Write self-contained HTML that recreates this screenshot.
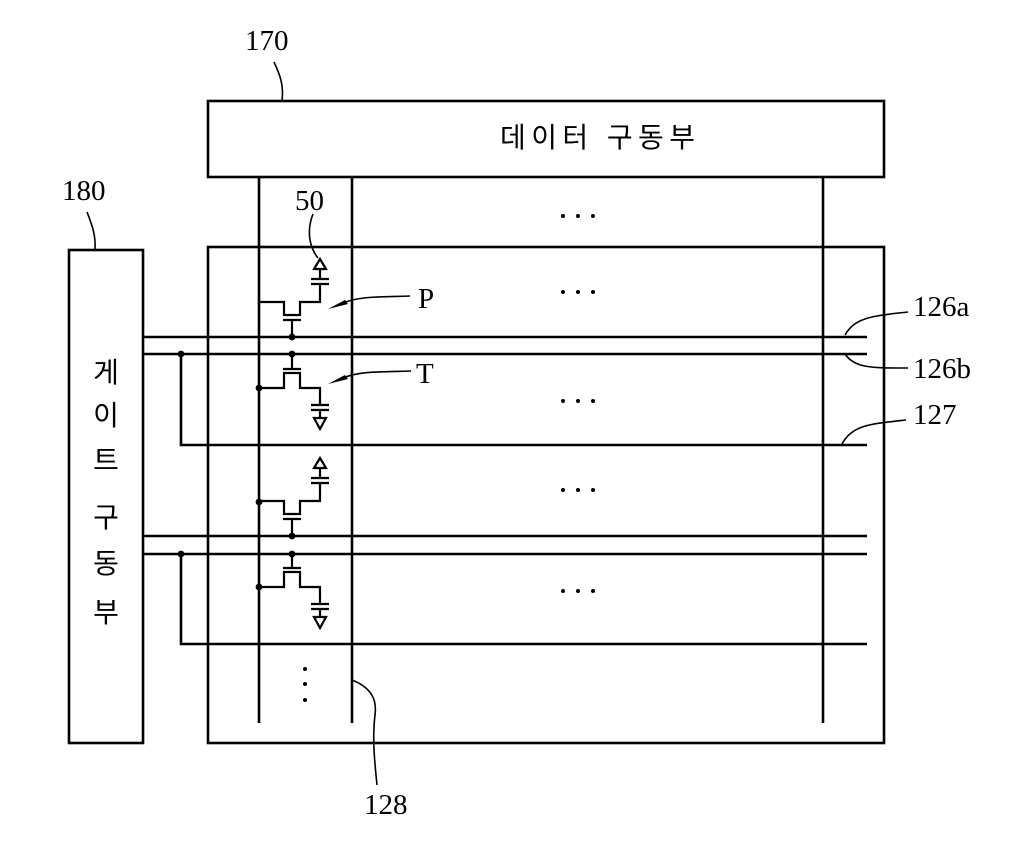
<!DOCTYPE html>
<html><head><meta charset="utf-8"><style>
html,body{margin:0;padding:0;background:#fff;}
svg{display:block;}
.n{font-family:"Liberation Serif",serif;font-size:29px;fill:#000;}
.k{font-family:"Liberation Sans","Noto Sans CJK KR","NanumGothic",sans-serif;font-size:28px;fill:#000;}
</style></head><body>
<svg width="1016" height="859" viewBox="0 0 1016 859" xmlns="http://www.w3.org/2000/svg">
<g fill="none" stroke="#000" stroke-width="2.6">
<rect x="208" y="101" width="676" height="76"/>
<rect x="69" y="250" width="74" height="493"/>
<rect x="208" y="247" width="676" height="496"/>
<line x1="259" y1="177" x2="259" y2="723"/>
<line x1="352" y1="177" x2="352" y2="723"/>
<line x1="823" y1="177" x2="823" y2="723"/>
<line x1="143" y1="337" x2="867" y2="337"/>
<line x1="143" y1="354" x2="867" y2="354"/>
<polyline points="181,354 181,445 867,445"/>
<line x1="143" y1="536" x2="867" y2="536"/>
<line x1="143" y1="554" x2="867" y2="554"/>
<polyline points="181,554 181,644 867,644"/>
</g>
<g id="cell" fill="none" stroke="#000" stroke-width="2.2">
<path d="M259,302 H284 V315 H300 V302 H320 V284"/>
<line x1="311" y1="284" x2="329" y2="284"/>
<line x1="311" y1="279" x2="329" y2="279"/>
<line x1="320" y1="279" x2="320" y2="269"/>
<polygon points="320,259 314,269 326,269"/>
<line x1="283" y1="320" x2="301" y2="320"/>
<line x1="292" y1="320" x2="292" y2="337"/>
<line x1="292" y1="354" x2="292" y2="369"/>
<line x1="283" y1="369" x2="301" y2="369"/>
<path d="M259,388 H284 V373 H300 V388 H320 V405"/>
<line x1="311" y1="405" x2="329" y2="405"/>
<line x1="311" y1="410" x2="329" y2="410"/>
<line x1="320" y1="410" x2="320" y2="418"/>
<polygon points="314,418 326,418 320,429"/>
</g>
<use href="#cell" transform="translate(0,199)"/>
<g fill="#000">
<circle cx="292" cy="337" r="3.4"/><circle cx="292" cy="354" r="3.4"/>
<circle cx="259" cy="388" r="3.4"/><circle cx="181" cy="354" r="3.4"/>
<circle cx="292" cy="536" r="3.4"/><circle cx="292" cy="554" r="3.4"/>
<circle cx="259" cy="502" r="3.4"/><circle cx="259" cy="587" r="3.4"/>
<circle cx="181" cy="554" r="3.4"/>
<circle cx="563" cy="216" r="2"/><circle cx="578" cy="216" r="2"/><circle cx="593" cy="216" r="2"/>
<circle cx="563" cy="292" r="2"/><circle cx="578" cy="292" r="2"/><circle cx="593" cy="292" r="2"/>
<circle cx="563" cy="401" r="2"/><circle cx="578" cy="401" r="2"/><circle cx="593" cy="401" r="2"/>
<circle cx="563" cy="490" r="2"/><circle cx="578" cy="490" r="2"/><circle cx="593" cy="490" r="2"/>
<circle cx="563" cy="591" r="2"/><circle cx="578" cy="591" r="2"/><circle cx="593" cy="591" r="2"/>
<circle cx="305" cy="669" r="2"/><circle cx="305" cy="684" r="2"/><circle cx="305" cy="700" r="2"/>
<polygon points="328,309 345,300 348,304"/>
<polygon points="328,384 345,375 348,379"/>
</g>
<g fill="none" stroke="#000" stroke-width="1.6">
<path d="M343,303 C360,296 380,297 410,296"/>
<path d="M343,378 C360,371 380,372 411,371"/>
<path d="M313,214 C306,232 310,248 318,258"/>
<path d="M274,62 C280,75 284,85 282,101"/>
<path d="M87,212 C92,225 96,235 95,250"/>
<path d="M352,680 C372,688 377,700 375,715 C372,740 375,765 377,785"/>
<path d="M845,335 C855,318 870,316 908,312"/>
<path d="M845,354 C855,368 870,368 908,368"/>
<path d="M842,444 C852,425 870,424 906,420"/>
</g>
<text class="n" x="245" y="50">170</text>
<text class="n" x="62" y="200">180</text>
<text class="n" x="295" y="210">50</text>
<text class="n" x="418" y="308">P</text>
<text class="n" x="416" y="383">T</text>
<text class="n" x="913" y="316">126a</text>
<text class="n" x="913" y="378">126b</text>
<text class="n" x="913" y="424">127</text>
<text class="n" x="364" y="814">128</text>
<text class="k" x="500" y="147" textLength="195">데이터 구동부</text>
<g class="k" text-anchor="middle">
<text x="106" y="382">게</text>
<text x="106" y="425">이</text>
<text x="106" y="470">트</text>
<text x="106" y="527">구</text>
<text x="106" y="573">동</text>
<text x="106" y="622">부</text>
</g>
</svg>
</body></html>
